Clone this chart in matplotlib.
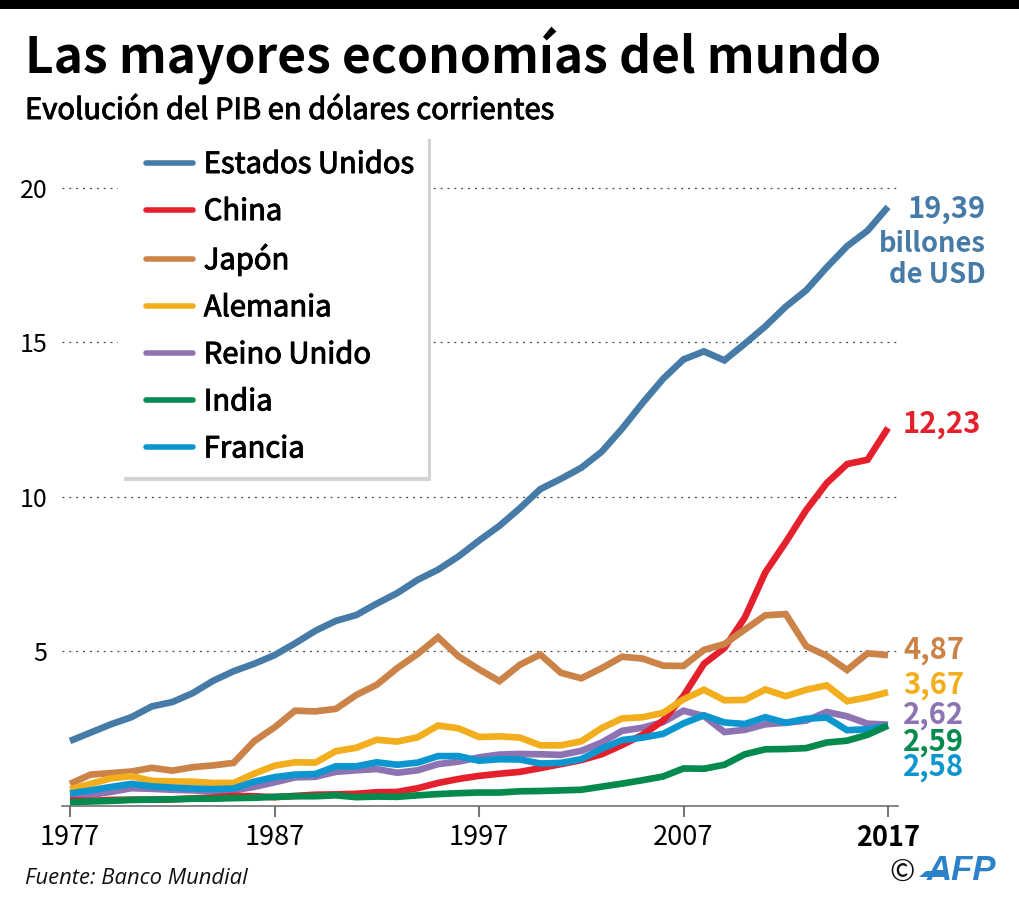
import matplotlib
matplotlib.use("Agg")
import matplotlib.pyplot as plt
import matplotlib.patheffects as pe
from matplotlib.patches import Rectangle, Polygon

plt.rcParams["font.family"] = ["Noto Sans CJK SC", "DejaVu Sans"]

years = list(range(1977, 2018))
usa = [2.09, 2.36, 2.63, 2.86, 3.21, 3.35, 3.64, 4.04, 4.35, 4.59, 4.87, 5.25, 5.66, 5.98,
       6.17, 6.54, 6.88, 7.31, 7.64, 8.07, 8.58, 9.06, 9.63, 10.25, 10.58, 10.94, 11.46,
       12.21, 13.04, 13.82, 14.45, 14.71, 14.42, 14.96, 15.52, 16.16, 16.69, 17.43, 18.12,
       18.62, 19.39]
china = [0.17, 0.15, 0.18, 0.19, 0.19, 0.20, 0.23, 0.26, 0.31, 0.30, 0.27, 0.31, 0.35, 0.36,
         0.38, 0.43, 0.44, 0.56, 0.73, 0.86, 0.96, 1.03, 1.09, 1.21, 1.34, 1.47, 1.66, 1.96,
         2.29, 2.75, 3.55, 4.59, 5.10, 6.09, 7.55, 8.53, 9.57, 10.44, 11.06, 11.20, 12.23]
japan = [0.70, 1.00, 1.05, 1.10, 1.22, 1.13, 1.24, 1.30, 1.38, 2.08, 2.53, 3.07, 3.05, 3.13,
         3.58, 3.91, 4.45, 4.91, 5.45, 4.83, 4.41, 4.03, 4.56, 4.89, 4.30, 4.12, 4.45, 4.82,
         4.76, 4.53, 4.52, 5.04, 5.23, 5.70, 6.16, 6.20, 5.16, 4.85, 4.39, 4.93, 4.87]
germany = [0.52, 0.70, 0.88, 0.95, 0.80, 0.78, 0.77, 0.73, 0.73, 1.03, 1.29, 1.40, 1.39, 1.76,
           1.87, 2.13, 2.07, 2.21, 2.59, 2.50, 2.22, 2.24, 2.20, 1.95, 1.95, 2.08, 2.51, 2.82,
           2.86, 3.00, 3.44, 3.75, 3.41, 3.42, 3.76, 3.54, 3.75, 3.89, 3.38, 3.50, 3.67]
uk = [0.27, 0.34, 0.44, 0.56, 0.54, 0.51, 0.49, 0.46, 0.49, 0.60, 0.75, 0.91, 0.93, 1.09,
      1.14, 1.18, 1.06, 1.14, 1.34, 1.42, 1.56, 1.65, 1.67, 1.66, 1.64, 1.77, 2.04, 2.42,
      2.52, 2.70, 3.07, 2.90, 2.38, 2.45, 2.63, 2.68, 2.75, 3.03, 2.89, 2.65, 2.62]
india = [0.11, 0.13, 0.15, 0.18, 0.19, 0.20, 0.22, 0.22, 0.24, 0.25, 0.28, 0.30, 0.30, 0.33,
         0.27, 0.29, 0.28, 0.33, 0.37, 0.40, 0.42, 0.42, 0.46, 0.47, 0.49, 0.51, 0.61, 0.71,
         0.82, 0.94, 1.20, 1.19, 1.32, 1.66, 1.82, 1.83, 1.86, 2.04, 2.10, 2.29, 2.59]
france = [0.39, 0.49, 0.60, 0.70, 0.62, 0.58, 0.55, 0.53, 0.55, 0.77, 0.92, 1.00, 1.02, 1.27,
          1.27, 1.40, 1.32, 1.39, 1.60, 1.60, 1.45, 1.50, 1.49, 1.36, 1.38, 1.50, 1.84, 2.12,
          2.20, 2.32, 2.66, 2.92, 2.69, 2.64, 2.86, 2.68, 2.81, 2.85, 2.44, 2.47, 2.58]

names = ["Estados Unidos", "China", "Japón", "Alemania", "Reino Unido", "India", "Francia"]
colors = ["#457BA6", "#E4202C", "#CB8347", "#F2AE1C", "#8E73B3", "#048A4D", "#0B96CF"]
series = [usa, china, japan, germany, uk, india, france]
draw_order = [0, 4, 1, 2, 3, 6, 5]

W, H = 1020, 908
semi = [pe.withStroke(linewidth=0.7, foreground="black")]

fig = plt.figure(figsize=(W / 100, H / 100), dpi=100)
# axes box in pixels: 20.45 px per year, 30.87 px per unit
ax = fig.add_axes([62 / W, 1 - 805.5 / H, 836 / W, 675.5 / H])
ax.set_xlim(1977 - 8 / 20.45, 2017 + 10 / 20.45)
ax.set_ylim(0, 675.5 / 30.87)

for s in ["top", "left", "right"]:
    ax.spines[s].set_visible(False)
ax.spines["bottom"].set_color("#666666")
ax.spines["bottom"].set_linewidth(1.1)

ax.set_yticks([5, 10, 15, 20])
ax.set_xticks([1977, 1987, 1997, 2007, 2017])
ax.tick_params(axis="y", length=0, pad=10.5, labelsize=18)
ax.tick_params(axis="x", length=8, width=1.5, color="#777777", pad=5.5, labelsize=19.5)
ax.grid(axis="y", color="#444444", linewidth=0.9, linestyle=(0, (1.5, 4)))
ax.set_axisbelow(True)
ax.get_xticklabels()[-1].set_fontweight("bold")

# white box behind the legend, with its grey shadow
ax.add_patch(Rectangle((118 / W, 1 - 478 / H), 315 / W, 350 / H, transform=fig.transFigure,
                       facecolor="white", edgecolor="none", zorder=1.5, clip_on=False))
fig.add_artist(Rectangle((428 / W, 1 - 481 / H), 3.5 / W, 342 / H, facecolor="#D2D3D5", edgecolor="none"))
fig.add_artist(Rectangle((124 / W, 1 - 481 / H), 307 / W, 3.5 / H, facecolor="#D2D3D5", edgecolor="none"))

lines = {}
for i in draw_order:
    lines[i], = ax.plot(years, series[i], color=colors[i], linewidth=4.8, label=names[i],
                        solid_joinstyle="miter", solid_capstyle="butt",
                        zorder=3 + draw_order.index(i) * 0.1, clip_on=False)

leg = ax.legend([lines[i] for i in range(7)], names, loc="upper left",
                bbox_to_anchor=(146 / W, 1 - 150 / H), bbox_transform=fig.transFigure,
                frameon=False, borderpad=0, borderaxespad=0, handlelength=1.6, handletextpad=0.38,
                labelspacing=0.585, prop={"size": 21})
for h in leg.get_lines():
    h.set_solid_capstyle("round")
    h.set_linewidth(4)
for t in leg.get_texts():
    t.set_path_effects(semi)

fig.add_artist(Rectangle((0, 1 - 9 / H), 1, 9 / H, facecolor="black", edgecolor="none"))

fig.text(25 / W, 1 - 55 / H, "Las mayores economías del mundo", fontsize=35.8, fontweight="bold",
         ha="left", va="center", color="black")
fig.text(25 / W, 1 - 111 / H, "Evolución del PIB en dólares corrientes", fontsize=21,
         ha="left", va="center", color="black", path_effects=semi)

# end labels
fig.text(986 / W, 1 - 209 / H, "19,39", fontsize=21, fontweight="bold", color=colors[0], ha="right", va="center")
fig.text(986 / W, 1 - 244 / H, "billones", fontsize=19.7, fontweight="bold", color=colors[0], ha="right", va="center")
fig.text(986 / W, 1 - 275 / H, "de USD", fontsize=19.7, fontweight="bold", color=colors[0], ha="right", va="center")
end_labels = ["12,23", "4,87", "3,67", "2,62", "2,59", "2,58"]
end_colors = [colors[1], colors[2], colors[3], colors[4], colors[5], colors[6]]
end_y = [424, 650, 685, 715, 742, 767]
for txt, col, y in zip(end_labels, end_colors, end_y):
    fig.text(903 / W, 1 - y / H, txt, fontsize=21, fontweight="bold", color=col, ha="left", va="center")

fig.text(25 / W, 1 - 878 / H, "Fuente: Banco Mundial", fontsize=15.8, fontstyle="italic",
         family="Open Sans", ha="left", va="center", color="#111111")
fig.text(902 / W, 1 - 873 / H, "©", fontsize=22, ha="center", va="center", color="#111111")
fig.text(996 / W, 1 - 870 / H, "AFP", fontsize=25, fontweight="bold", fontstyle="italic",
         family="Liberation Sans", ha="right", va="center", color="#2C82C9")
fig.add_artist(Polygon([(919 / W, 1 - 877 / H), (926 / W, 1 - 871 / H), (946 / W, 1 - 871 / H), (946 / W, 1 - 877 / H)],
                       closed=True, facecolor="#2C82C9", edgecolor="none"))

fig.savefig("out.png", dpi=100)
